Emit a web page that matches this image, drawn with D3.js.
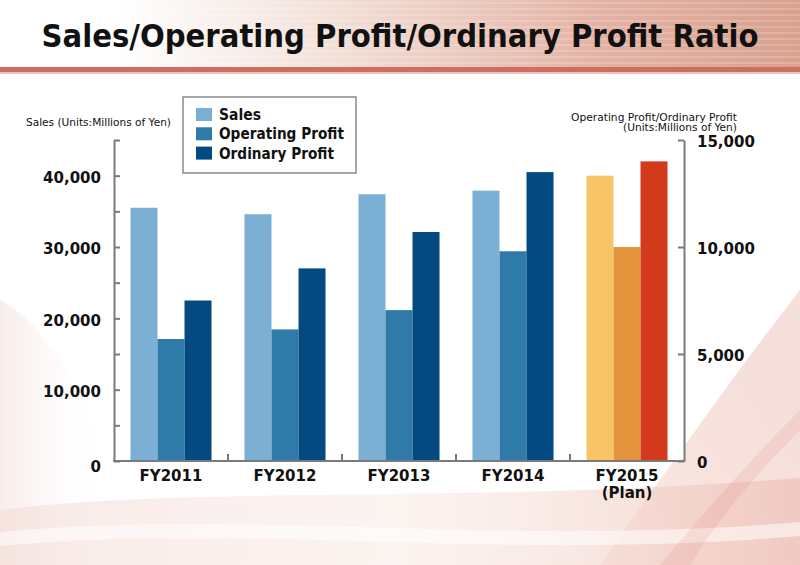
<!DOCTYPE html>
<html>
<head>
<meta charset="utf-8">
<script src="https://cdn.jsdelivr.net/npm/d3@7"></script>
<style>
  body { margin: 0; background: #fff; }
  svg { display: block; }
</style>
</head>
<body>
<div id="chart"></div>
<script>
// values
const years = ["FY2011", "FY2012", "FY2013", "FY2014", "FY2015"];
const yearLines = [["FY2011"], ["FY2012"], ["FY2013"], ["FY2014"], ["FY2015", "(Plan)"]];
const series = ["Sales", "Operating Profit", "Ordinary Profit"];
const sales = [35500, 34600, 37400, 37900, 40000];
const operatingProfit = [5700, 6150, 7050, 9800, 10000];
const ordinaryProfit = [7500, 9000, 10700, 13500, 14000];
const leftTicks = [0, 5000, 10000, 15000, 20000, 25000, 30000, 35000, 40000, 45000];
const rightTicks = [0, 5000, 10000, 15000];

const W = 800, H = 565;
const plot = { left: 114, right: 684, top: 140, bottom: 461 };

const blues = ["#7bafd4", "#2e7aa8", "#034a80"];
const oranges = ["#f8c465", "#e3943d", "#d33a1b"];

const svg = d3.select("#chart").append("svg")
  .attr("width", W)
  .attr("height", H);

const defs = svg.append("defs");

// --- background decoration ---
const band = defs.append("linearGradient").attr("id", "band");
band.append("stop").attr("offset", "0%").attr("stop-color", "#ffffff");
band.append("stop").attr("offset", "15%").attr("stop-color", "#ffffff");
band.append("stop").attr("offset", "40%").attr("stop-color", "#f3e2da");
band.append("stop").attr("offset", "75%").attr("stop-color", "#e3b2a4");
band.append("stop").attr("offset", "100%").attr("stop-color", "#d9a18e");

const swoosh = defs.append("linearGradient").attr("id", "swoosh")
  .attr("x1", "0%").attr("y1", "100%").attr("x2", "100%").attr("y2", "0%");
swoosh.append("stop").attr("offset", "0%").attr("stop-color", "#f8e2dc").attr("stop-opacity", 0.7);
swoosh.append("stop").attr("offset", "60%").attr("stop-color", "#f0c8c0").attr("stop-opacity", 0.55);
swoosh.append("stop").attr("offset", "100%").attr("stop-color", "#eab8b0").attr("stop-opacity", 0.45);

const bottomBand = defs.append("linearGradient").attr("id", "bottomBand");
bottomBand.append("stop").attr("offset", "0%").attr("stop-color", "#f3dcd6").attr("stop-opacity", 0.6);
bottomBand.append("stop").attr("offset", "50%").attr("stop-color", "#f8e6e0").attr("stop-opacity", 0.45);
bottomBand.append("stop").attr("offset", "100%").attr("stop-color", "#eec0b6").attr("stop-opacity", 0.7);

const leftFade = defs.append("linearGradient").attr("id", "leftFade");
leftFade.append("stop").attr("offset", "0%").attr("stop-color", "#f4e0dc").attr("stop-opacity", 0.6);
leftFade.append("stop").attr("offset", "100%").attr("stop-color", "#ffffff").attr("stop-opacity", 0);

const bg = svg.append("g");
bg.append("rect").attr("width", W).attr("height", H).attr("fill", "#fff");
bg.append("path")
  .attr("d", "M0,300 C40,320 80,380 110,470 L110,565 L0,565 Z")
  .attr("fill", "url(#leftFade)");
bg.append("path")
  .attr("d", "M600,565 C660,480 730,380 800,290 L800,565 Z")
  .attr("fill", "url(#swoosh)");
bg.append("path")
  .attr("d", "M0,510 C200,485 450,505 800,478 L800,565 L0,565 Z")
  .attr("fill", "url(#bottomBand)");
bg.append("path")
  .attr("d", "M0,532 C250,508 500,548 800,522 L800,536 C500,562 250,522 0,546 Z")
  .attr("fill", "#ffffff").attr("opacity", 0.55);
bg.append("path")
  .attr("d", "M660,565 C710,505 760,450 800,410 L800,430 C765,465 720,515 690,565 Z")
  .attr("fill", "#d8665a").attr("opacity", 0.12);

// header band with faint stripes
bg.append("rect").attr("x", 0).attr("y", 0).attr("width", W).attr("height", 67).attr("fill", "url(#band)");
bg.append("g").selectAll("line")
  .data(d3.range(3, 67, 6))
  .join("line")
  .attr("x1", 0).attr("x2", W)
  .attr("y1", d => d).attr("y2", d => d)
  .attr("stroke", "#fff").attr("stroke-opacity", 0.35);
bg.append("rect").attr("x", 0).attr("y", 67).attr("width", W).attr("height", 5).attr("fill", "#cb6f63");
bg.append("rect").attr("x", 0).attr("y", 72).attr("width", W).attr("height", 2).attr("fill", "#ecc5bd");

// plot panel
svg.append("rect")
  .attr("x", plot.left).attr("y", plot.top)
  .attr("width", plot.right - plot.left).attr("height", plot.bottom - plot.top)
  .attr("fill", "#fff");

// --- title ---
svg.append("text")
  .attr("x", 400).attr("y", 47)
  .attr("text-anchor", "middle")
  .attr("textLength", 717)
  .attr("lengthAdjust", "spacingAndGlyphs")
  .style("font-family", "'DejaVu Sans Condensed', 'DejaVu Sans', sans-serif")
  .style("font-stretch", "condensed")
  .style("font-weight", "bold")
  .style("font-size", "32px")
  .style("fill", "#111")
  .text("Sales/Operating Profit/Ordinary Profit Ratio");

// --- scales ---
const x0 = d3.scaleBand().domain(years).range([plot.left, plot.right]).padding(0);
const x1 = d3.scaleBand().domain(series).range([0, x0.bandwidth()]).paddingInner(0).paddingOuter(0.61);
const yL = d3.scaleLinear().domain([0, 45000]).range([plot.bottom, plot.top]);
const yR = d3.scaleLinear().domain([0, 15000]).range([plot.bottom, plot.top]);

const rows = years.map((yr, i) => ({
  year: yr,
  plan: i === years.length - 1,
  values: [
    { key: series[0], v: sales[i], scale: yL },
    { key: series[1], v: operatingProfit[i], scale: yR },
    { key: series[2], v: ordinaryProfit[i], scale: yR }
  ]
}));

// --- bars ---
const groups = svg.append("g").selectAll("g")
  .data(rows)
  .join("g")
  .attr("transform", d => `translate(${x0(d.year)},0)`);

groups.selectAll("rect")
  .data(d => d.values.map((s, j) => ({ ...s, j, plan: d.plan })))
  .join("rect")
  .attr("x", d => x1(d.key))
  .attr("y", d => d.scale(d.v))
  .attr("width", x1.bandwidth())
  .attr("height", d => plot.bottom - d.scale(d.v))
  .attr("fill", d => (d.plan ? oranges : blues)[d.j]);

// --- axes ---
const fmt = d3.format(",");
const axisColor = "#7a7a7a";

const leftAxis = svg.append("g")
  .attr("transform", `translate(${plot.left},0)`)
  .call(d3.axisLeft(yL)
    .tickValues(leftTicks)
    .tickSize(-6)
    .tickSizeOuter(0)
    .tickPadding(13)
    .tickFormat(d => (d % 10000 === 0 && d < 45000) ? fmt(d) : ""));

const rightAxis = svg.append("g")
  .attr("transform", `translate(${plot.right},0)`)
  .call(d3.axisRight(yR)
    .tickValues(rightTicks)
    .tickSize(-6)
    .tickSizeOuter(0)
    .tickPadding(13)
    .tickFormat(fmt));

[leftAxis, rightAxis].forEach(a => {
  a.select(".domain").attr("stroke", axisColor).attr("stroke-width", 2);
  a.selectAll(".tick line").attr("stroke", axisColor).attr("stroke-width", 2);
  a.selectAll(".tick text")
    .attr("dy", "0.45em")
    .style("font-family", "'DejaVu Sans', sans-serif")
    .style("font-weight", "bold")
    .style("font-size", "15px")
    .style("fill", "#111");
});
leftAxis.selectAll(".tick text").filter(d => d === 0).attr("dy", "0.7em");

// bottom axis line + category dividers
svg.append("line")
  .attr("x1", plot.left - 1).attr("x2", plot.right + 1)
  .attr("y1", plot.bottom).attr("y2", plot.bottom)
  .attr("stroke", axisColor).attr("stroke-width", 2);

svg.append("g").selectAll("line")
  .data(years.slice(1))
  .join("line")
  .attr("x1", d => x0(d)).attr("x2", d => x0(d))
  .attr("y1", plot.bottom).attr("y2", plot.bottom - 7)
  .attr("stroke", axisColor).attr("stroke-width", 2);

const xLabels = svg.append("g").selectAll("text")
  .data(yearLines)
  .join("text")
  .attr("text-anchor", "middle")
  .attr("transform", (d, i) => `translate(${x0(years[i]) + x0.bandwidth() / 2},481)`)
  .style("font-family", "'DejaVu Sans', sans-serif")
  .style("font-weight", "bold")
  .style("font-size", "15px")
  .style("fill", "#111");

xLabels.selectAll("tspan")
  .data(d => d)
  .join("tspan")
  .attr("x", 0)
  .attr("dy", (d, i) => i === 0 ? 0 : 17)
  .text(d => d);

// --- axis titles ---
const smallFont = "'DejaVu Sans', sans-serif";
svg.append("text")
  .attr("x", 26).attr("y", 126)
  .attr("textLength", 145)
  .attr("lengthAdjust", "spacingAndGlyphs")
  .style("font-family", smallFont)
  .style("font-size", "10px")
  .style("fill", "#111")
  .text("Sales (Units:Millions of Yen)");

svg.append("text")
  .attr("x", 737).attr("y", 121)
  .attr("text-anchor", "end")
  .attr("textLength", 166)
  .attr("lengthAdjust", "spacingAndGlyphs")
  .style("font-family", smallFont)
  .style("font-size", "10px")
  .style("fill", "#111")
  .text("Operating Profit/Ordinary Profit");

svg.append("text")
  .attr("x", 737).attr("y", 131)
  .attr("text-anchor", "end")
  .attr("textLength", 114)
  .attr("lengthAdjust", "spacingAndGlyphs")
  .style("font-family", smallFont)
  .style("font-size", "10px")
  .style("fill", "#111")
  .text("(Units:Millions of Yen)");

// --- legend ---
const legendWidths = [42, 125, 115];
const legend = svg.append("g").attr("transform", "translate(183,97)");
legend.append("rect")
  .attr("width", 173).attr("height", 76)
  .attr("fill", "#fff")
  .attr("stroke", "#8a8a8a").attr("stroke-width", 1.5);

const item = legend.selectAll("g.item")
  .data(series)
  .join("g")
  .attr("class", "item")
  .attr("transform", (d, i) => `translate(13,${11 + i * 19.3})`);

item.append("rect")
  .attr("width", 16).attr("height", 13)
  .attr("fill", (d, i) => blues[i]);

item.append("text")
  .attr("x", 23).attr("y", 12)
  .attr("textLength", (d, i) => legendWidths[i])
  .attr("lengthAdjust", "spacingAndGlyphs")
  .style("font-family", "'DejaVu Sans', sans-serif")
  .style("font-weight", "bold")
  .style("font-size", "15px")
  .style("fill", "#111")
  .text(d => d);
</script>
</body>
</html>
